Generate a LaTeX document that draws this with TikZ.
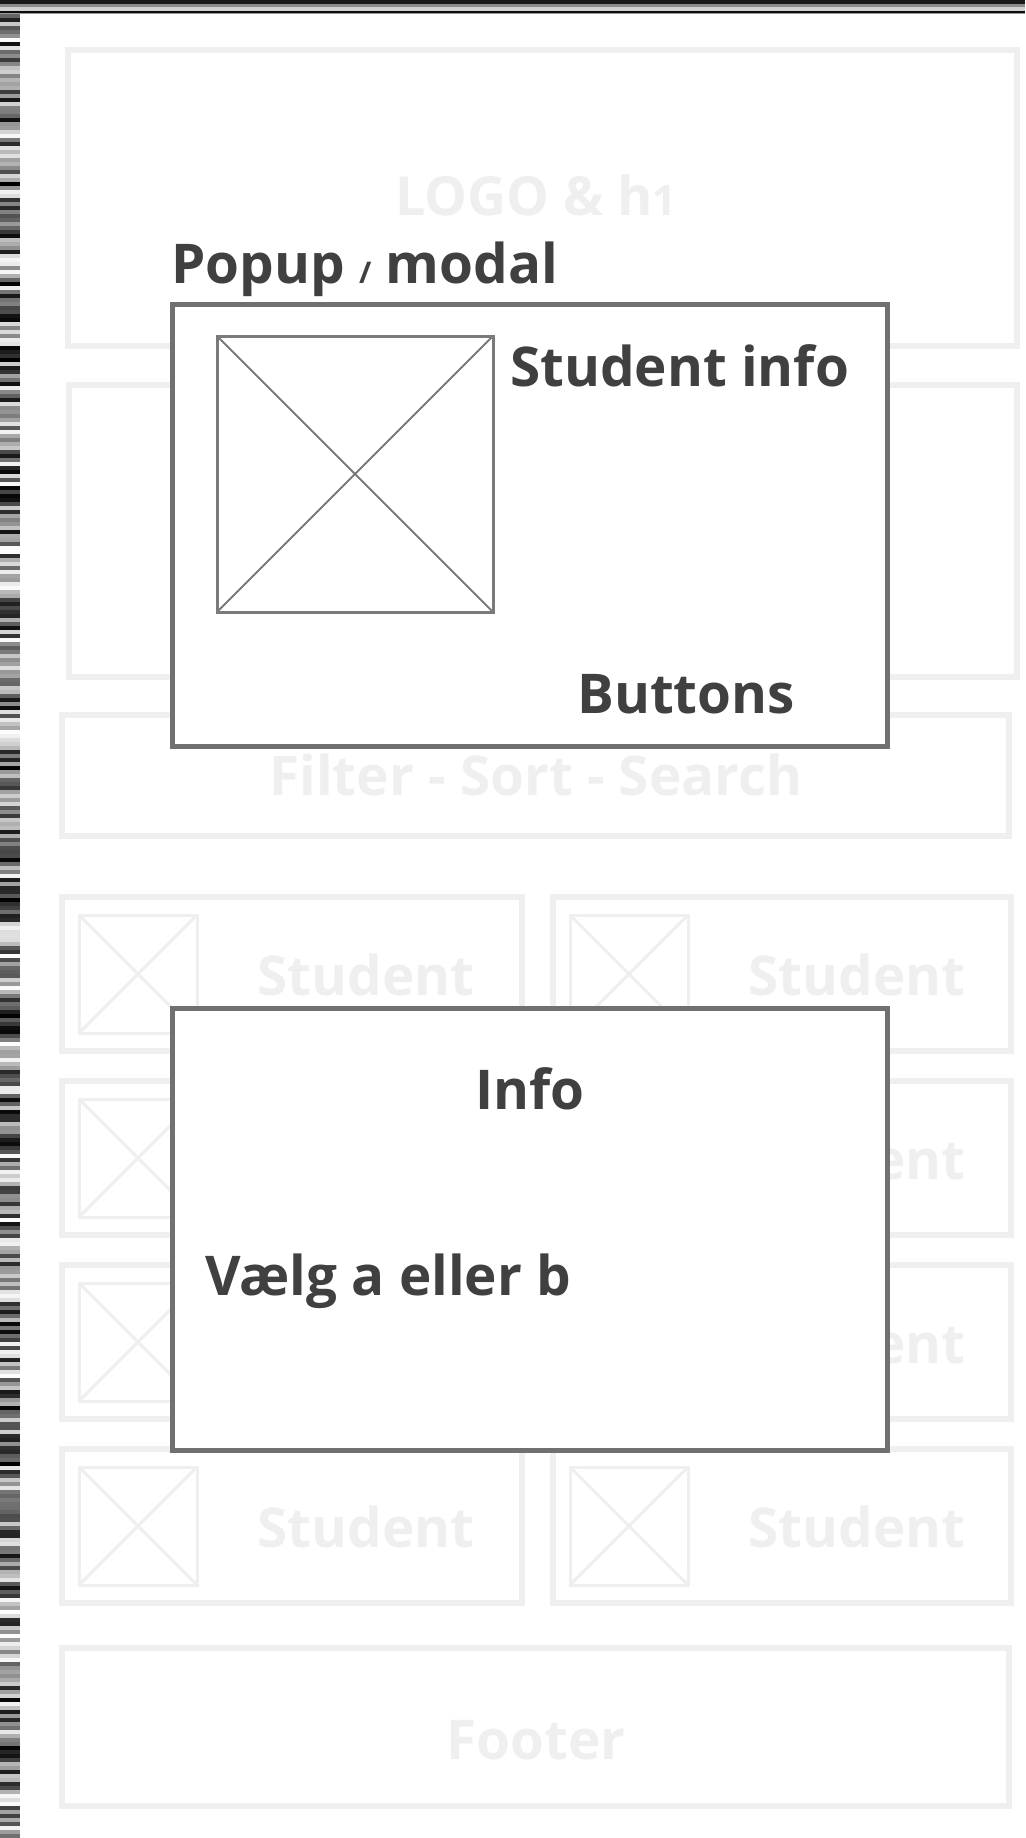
\documentclass[tikz,border=0pt]{standalone}
\usepackage{fontspec}
\setmainfont{Open Sans}
\definecolor{ghost}{HTML}{EFEFEF}
\definecolor{frame}{HTML}{707070}
\definecolor{imgline}{HTML}{7A7A7A}
\definecolor{ink}{HTML}{404040}
\tikzset{
  ghostbox/.style={draw=ghost, line width=6bp},
  ghostimg/.style={draw=ghost, line width=3bp},
  ghosttext/.style={text=ghost, font=\bfseries\fontsize{55}{60}\selectfont, inner sep=0pt},
  modalbox/.style={draw=frame, line width=5bp, fill=white},
  imgbox/.style={draw=imgline, line width=3bp},
  imgdiag/.style={draw=imgline, line width=2bp},
  inktext/.style={text=ink, font=\bfseries\fontsize{55}{60}\selectfont, inner sep=0pt},
}
\begin{document}
\begin{tikzpicture}[x=1bp,y=-1bp]
\useasboundingbox (0,0) rectangle (1025,1838);
\fill[white] (0,0) rectangle (1025,1838);
% top stripe
\fill[black!90] (0,0) rectangle (1025,4);
\fill[black!45] (0,4) rectangle (1025,7);
\fill[black!18] (0,7) rectangle (1025,11);
\fill[black!95] (0,11) rectangle (1025,13);
\fill[black!40] (0,13) rectangle (1025,14);
% left stripe
\pgfmathsetseed{4711}
\foreach \i in {0,...,460} {
  \pgfmathrandominteger{\g}{0}{100}
  \fill[black!\g] (0,{14+4*\i}) rectangle (20,{18.3+4*\i});
}
% ghost page layout
\draw[ghostbox] (68,50) rectangle (1017,346);
\node[ghosttext, anchor=base, font=\bfseries\fontsize{54}{60}\selectfont] (logo) at (536,215) {LOGO \& h\raisebox{0pt}{\fontsize{42}{44}\selectfont 1}};
\draw[ghostbox] (69,385) rectangle (1017,677);
\draw[ghostbox] (62,715) rectangle (1009,836);
\node[ghosttext, anchor=base] (filter) at (536,795) {Filter - Sort - Search};
\foreach \r in {0,1,2,3} {
  \pgfmathsetmacro\t{897+184*\r}
  \foreach \c/\xl/\xr in {0/62/522,1/553/1011} {
    \draw[ghostbox] (\xl,\t) rectangle (\xr,\t+154);
    \draw[ghostimg] (\xl+17,\t+18) rectangle (\xl+135,\t+136);
    \draw[ghostimg] (\xl+17,\t+18) -- (\xl+135,\t+136);
    \draw[ghostimg] (\xl+135,\t+18) -- (\xl+17,\t+136);
    \node[ghosttext, anchor=base] (student-\r-\c) at (\xl+304,\t+98) {Student};
  }
}
\draw[ghostbox] (62,1648) rectangle (1009,1806);
\node[ghosttext, anchor=base] (footer) at (536,1759) {Footer};
% popup / modal
\node[inktext, anchor=base west] (popuplabel) at (171,283) {Popup {\fontsize{30}{30}\selectfont/} modal};
\draw[modalbox] (172,304) rectangle (887,746);
\draw[imgbox] (217,336) rectangle (493,612);
\draw[imgdiag] (217,336) -- (493,612);
\draw[imgdiag] (493,336) -- (217,612);
\node[inktext, anchor=base west] (studentinfo) at (510,386) {Student info};
\node[inktext, anchor=base] (buttons) at (686,713) {Buttons};
% second modal
\draw[modalbox] (172,1008) rectangle (887,1450);
\node[inktext, anchor=base] (info) at (530,1109) {Info};
\node[inktext, anchor=base west] (vaelg) at (205,1295) {Vælg a eller b};
\end{tikzpicture}
\end{document}
